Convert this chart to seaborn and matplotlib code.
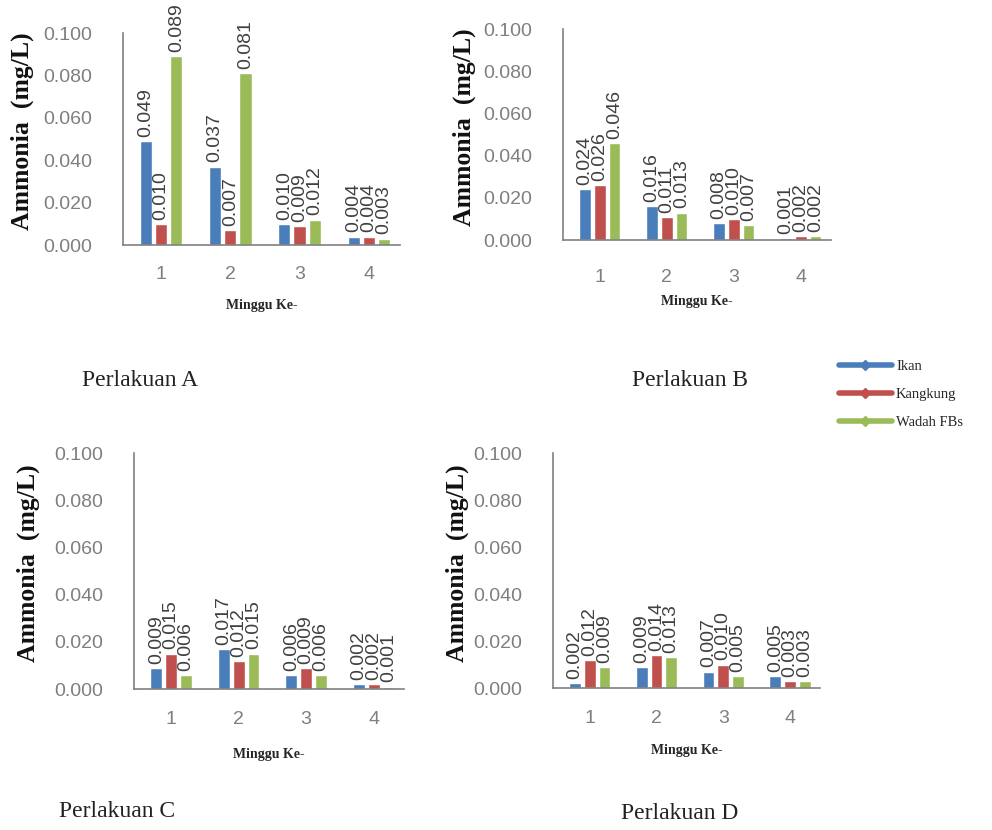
import matplotlib
matplotlib.use("Agg")
import matplotlib.pyplot as plt
from matplotlib.lines import Line2D
import seaborn as sns
import pandas as pd

weeks = ["1", "2", "3", "4"]
series = ["Ikan", "Kangkung", "Wadah FBs"]

a_ikan = [0.049, 0.037, 0.010, 0.004]
a_kangkung = [0.010, 0.007, 0.009, 0.004]
a_wadah = [0.089, 0.081, 0.012, 0.003]

b_ikan = [0.024, 0.016, 0.008, 0.001]
b_kangkung = [0.026, 0.011, 0.010, 0.002]
b_wadah = [0.046, 0.013, 0.007, 0.002]

c_ikan = [0.009, 0.017, 0.006, 0.002]
c_kangkung = [0.015, 0.012, 0.009, 0.002]
c_wadah = [0.006, 0.015, 0.006, 0.001]

d_ikan = [0.002, 0.009, 0.007, 0.005]
d_kangkung = [0.012, 0.014, 0.010, 0.003]
d_wadah = [0.009, 0.013, 0.005, 0.003]

y_ticks = [0.0, 0.02, 0.04, 0.06, 0.08, 0.1]
titles = ["Perlakuan A", "Perlakuan B", "Perlakuan C", "Perlakuan D"]

colors = ["#4A7EBB", "#C0504D", "#9BBB59"]

sns.set_style("white")
plt.rcParams["font.family"] = ["Liberation Sans", "DejaVu Sans"]

W, H = 992, 830
fig = plt.figure(figsize=(W / 100, H / 100), dpi=100)


def frame(panel_vals):
    rows = []
    for name, vals in zip(series, panel_vals):
        for wk, v in zip(weeks, vals):
            rows.append({"Minggu": wk, "Seri": name, "Nilai": v})
    return pd.DataFrame(rows)


# axes boxes in pixels: left, top, right, bottom
boxes = [
    (123, 33, 400, 245),
    (563, 29, 831, 240),
    (134, 453, 404, 689),
    (553, 453, 820, 688),
]
panels = [
    (a_ikan, a_kangkung, a_wadah),
    (b_ikan, b_kangkung, b_wadah),
    (c_ikan, c_kangkung, c_wadah),
    (d_ikan, d_kangkung, d_wadah),
]
title_pos = [(140, 380), (690, 380), (117, 811), (680, 813)]
ylabel_pos = [(22, 131), (464, 127), (28, 563), (457, 563)]
xtick_pad = [15, 21, 16, 16]
xlabel_pad = [12, 6, 14, 12]

for i, ((l, t, r, b), vals, title) in enumerate(zip(boxes, panels, titles)):
    ax = fig.add_axes([l / W, 1 - b / H, (r - l) / W, (b - t) / H])
    df = frame(vals)
    sns.barplot(data=df, x="Minggu", y="Nilai", hue="Seri", hue_order=series,
                palette=colors, width=0.66, gap=0.2, ax=ax, legend=False,
                errorbar=None, saturation=1)
    for cont in ax.containers:
        ax.bar_label(cont, fmt="%.3f", padding=3, rotation=90,
                     fontsize=14, color="#404040", clip_on=False)
    ax.set_ylim(0, 0.1)
    ax.set_xlim(-0.55, 3.45)
    ax.set_yticks(y_ticks)
    ax.set_yticklabels([f"{v:.3f}" for v in y_ticks])
    ax.tick_params(axis="y", length=5, width=1, color="#808080", pad=22,
                   labelsize=14, labelcolor="#7F7F7F", direction="in")
    ax.tick_params(axis="x", length=0, pad=xtick_pad[i], labelsize=14,
                   labelcolor="#7F7F7F")
    ax.set_xlabel("Minggu Ke-", family="Liberation Serif", fontweight="bold",
                  fontsize=10, labelpad=xlabel_pad[i])
    ax.set_ylabel("")
    for side in ["top", "right"]:
        ax.spines[side].set_visible(False)
    for side in ["left", "bottom"]:
        ax.spines[side].set_color("#808080")
        ax.spines[side].set_linewidth(1.2)

    yx, yy = ylabel_pos[i]
    fig.text(yx / W, 1 - yy / H, "Ammonia  (mg/L)", family="Liberation Serif",
             fontweight="bold", fontsize=18.5, rotation=90,
             ha="center", va="center", color="#111111")
    tx, ty = title_pos[i]
    fig.text(tx / W, 1 - ty / H, title, family="Liberation Serif",
             fontsize=17, ha="center", va="center", color="#222222")

handles = [Line2D([0], [0], color=c, lw=4, marker="D", markersize=5,
                  markerfacecolor=c, markeredgecolor=c) for c in colors]
fig.legend(handles, series, loc="upper left",
           bbox_to_anchor=(826 / W, 1 - 347 / H), frameon=False,
           prop={"family": "Liberation Serif", "size": 10.5},
           handlelength=3.6, labelspacing=1.0, handletextpad=0.3)

fig.savefig("out.png", dpi=100)
